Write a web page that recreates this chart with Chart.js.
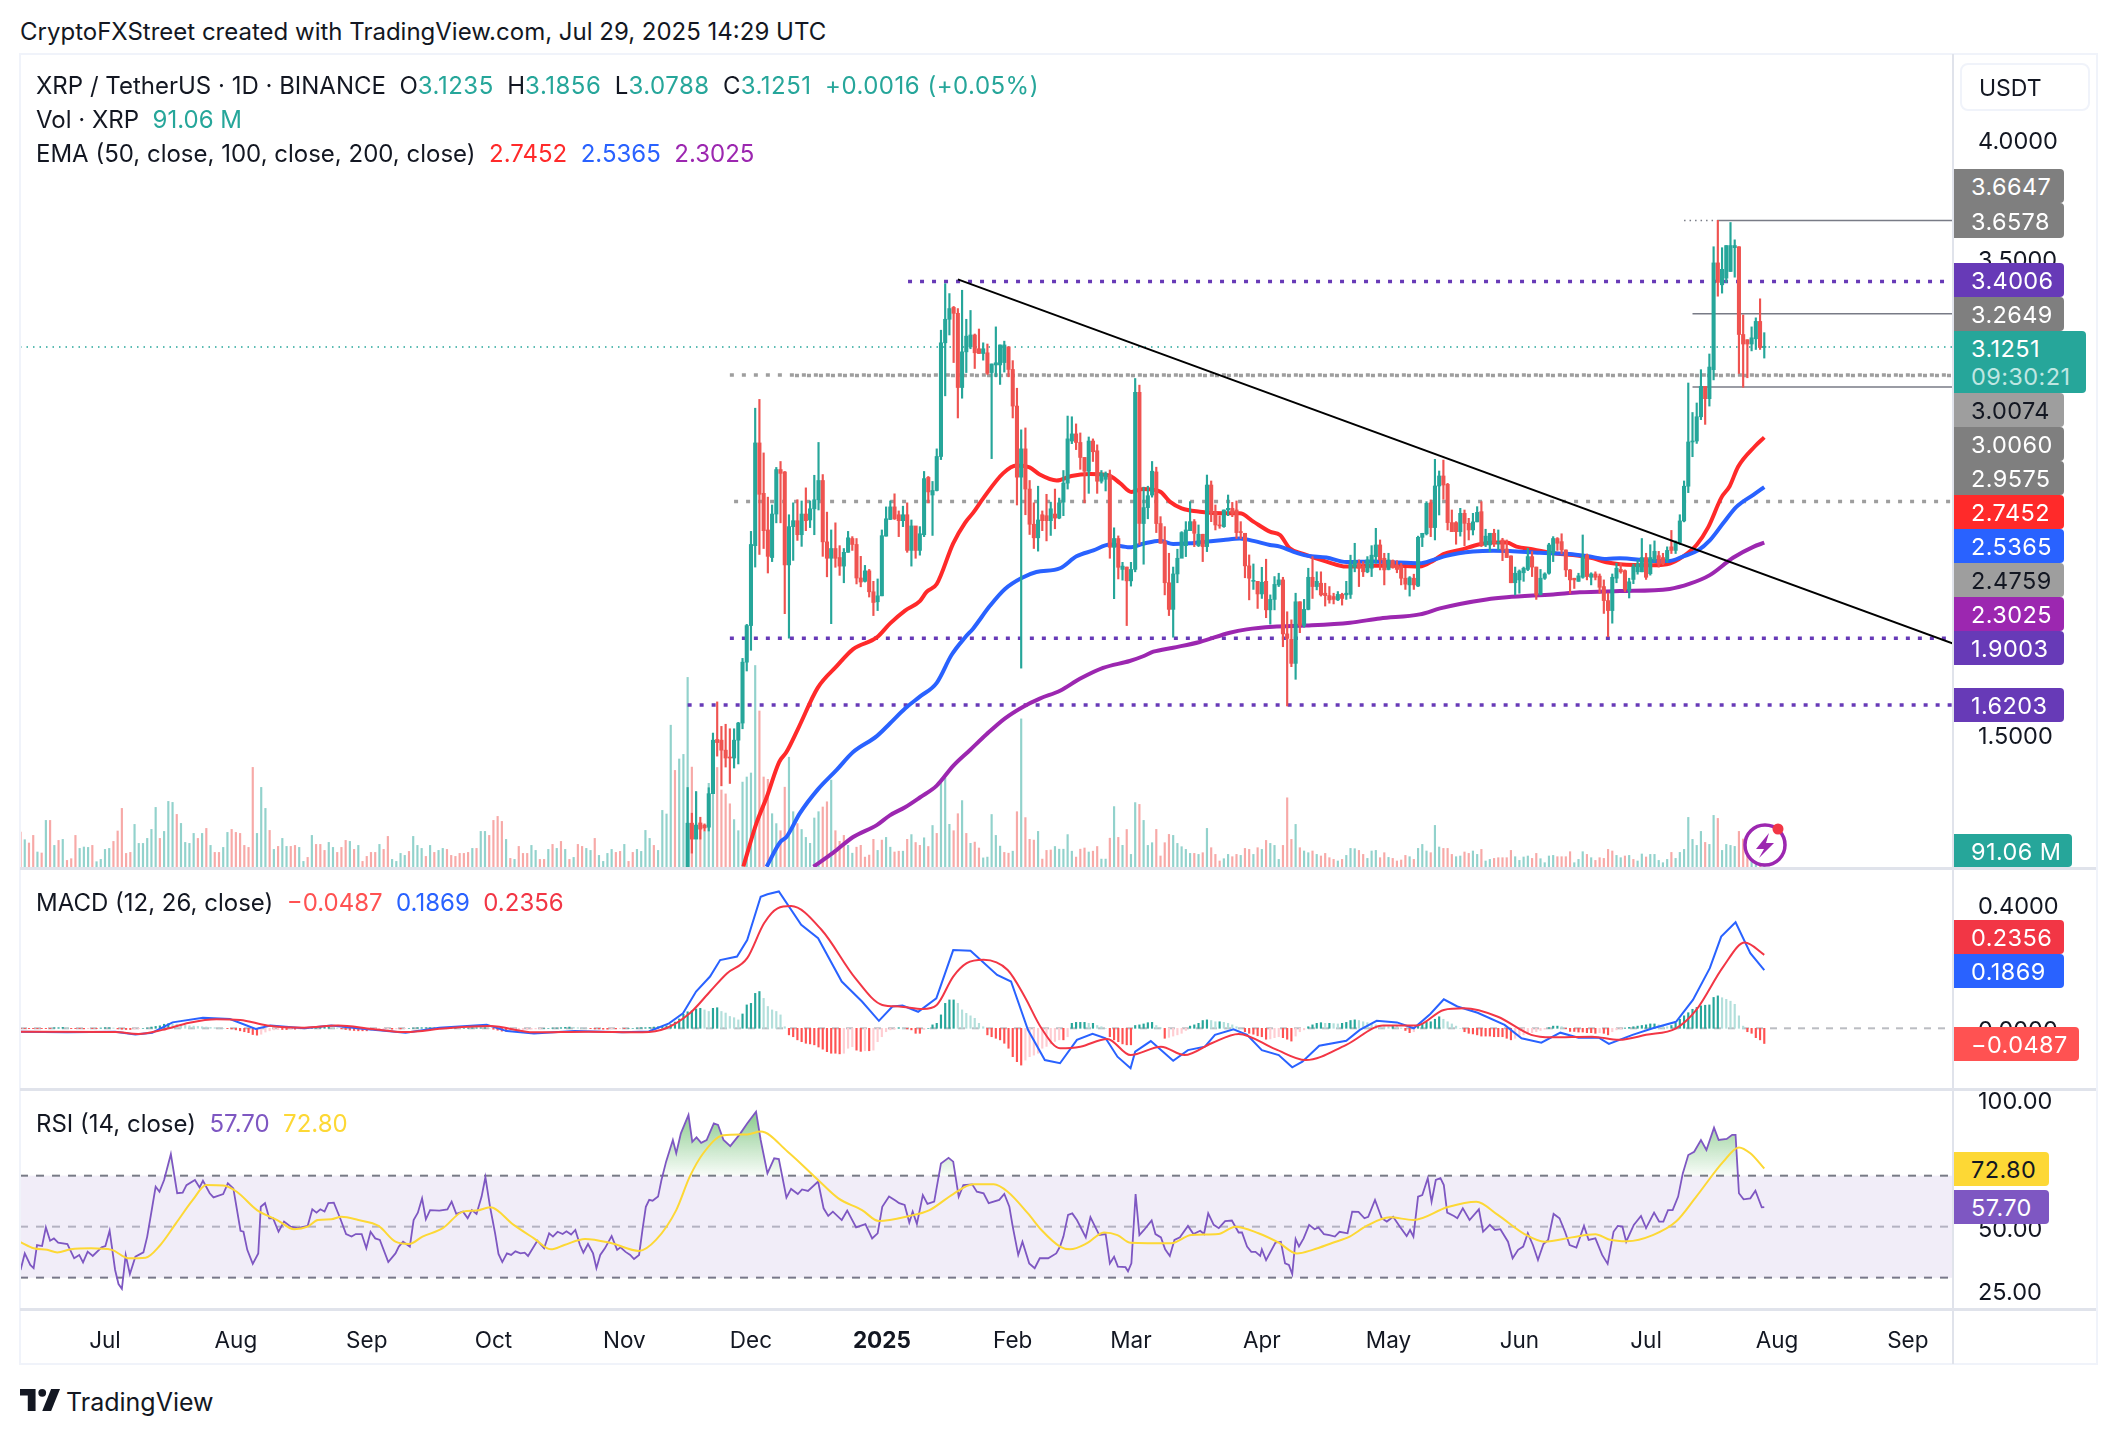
<!DOCTYPE html>
<html>
<head>
<meta charset="utf-8">
<title>XRP / TetherUS</title>
<script src="https://cdn.jsdelivr.net/npm/chart.js@4"></script>
<style>
  body { margin: 0; background: #fff; font-family: Inter, "Noto Sans", sans-serif; color: #131722; }
  #page { position: relative; width: 2116px; height: 1434px; overflow: hidden; }
  canvas { position: absolute; left: 20px; }
  .rule { position: absolute; background: #e0e3eb; }
  .frame { background: #f0f3fa; }
  .txt { position: absolute; font-size: 24px; line-height: 30px; white-space: pre; }
  .num { color: #26a69a; letter-spacing: 0.5px; }
  .tag { position: absolute; left: 1954px; font-size: 23.5px; letter-spacing: 0.4px; color: #fff; border-radius: 0 4px 4px 0;
         box-sizing: border-box; padding-left: 17px; white-space: pre; }
</style>
</head>
<body>
<div id="page">
  <canvas id="priceChart" width="2077" height="814" style="top:54px;width:2077px;height:814px"></canvas>
  <canvas id="macdChart" width="2077" height="221" style="top:868px;width:2077px;height:221px"></canvas>
  <canvas id="rsiChart" width="2077" height="275" style="top:1089px;width:2077px;height:275px"></canvas>

  <div class="rule frame" style="left:20px;top:53px;width:2078px;height:2px"></div>
  <div class="rule frame" style="left:20px;top:1363px;width:2078px;height:2px"></div>
  <div class="rule frame" style="left:19px;top:53px;width:2px;height:1312px"></div>
  <div class="rule frame" style="left:2096px;top:53px;width:2px;height:1312px"></div>
  <div class="rule" style="left:20px;top:867px;width:2076px;height:3px"></div>
  <div class="rule" style="left:20px;top:1088px;width:2076px;height:3px"></div>
  <div class="rule" style="left:20px;top:1308px;width:2076px;height:3px"></div>
  <div class="rule" style="left:1952px;top:54px;width:2px;height:1310px"></div>

  <div class="txt" style="left:20px;top:17px">CryptoFXStreet created with TradingView.com, Jul 29, 2025 14:29 UTC</div>
  <div class="txt" style="left:36px;top:71px">XRP / TetherUS · 1D · BINANCE  O<span class="num">3.1235</span>  H<span class="num">3.1856</span>  L<span class="num">3.0788</span>  C<span class="num">3.1251</span>  <span class="num">+0.0016 (+0.05%)</span></div>
  <div class="txt" style="left:36px;top:105px">Vol · XRP  <span style="color:#26a69a">91.06 M</span></div>
  <div class="txt" style="left:36px;top:139px">EMA (50, close, 100, close, 200, close)  <span style="color:#ff2a2a">2.7452</span>  <span style="color:#2962ff">2.5365</span>  <span style="color:#9c27b0">2.3025</span></div>
  <div class="txt" style="left:36px;top:888px">MACD (12, 26, close)  <span style="color:#ff5252">−0.0487</span>  <span style="color:#2962ff">0.1869</span>  <span style="color:#f23645">0.2356</span></div>
  <div class="txt" style="left:36px;top:1109px">RSI (14, close)  <span style="color:#7e57c2">57.70</span>  <span style="color:#fdd835">72.80</span></div>

  <div class="txt" style="left:1979px;top:73px;font-size:23px">USDT</div>
  <div style="position:absolute;left:1960px;top:63px;width:130px;height:48px;border:2px solid #f0f3fa;border-radius:8px;box-sizing:border-box"></div>

  <svg style="position:absolute;left:20px;top:1388px" width="40" height="24" viewBox="0 0 36 20">
    <path d="M14 0H0v6h7v14h7V0Z" fill="#131722"/><circle cx="20" cy="3.5" r="3.5" fill="#131722"/>
    <path d="M28 0h8l-8 20h-8l8-20Z" fill="#131722"/>
  </svg>
  <div class="txt" style="left:66px;top:1387px;font-size:25px">TradingView</div>

  <svg style="position:absolute;left:1740px;top:820px" width="50" height="50" viewBox="0 0 50 50">
    <circle cx="25" cy="25" r="20" fill="#fff" stroke="#9c27b0" stroke-width="3.5"/>
    <path d="M29 13 L16 29 H24 L19 38 L34 23 H26 Z" fill="#9c27b0"/>
    <circle cx="38" cy="9" r="5.5" fill="#f23645"/>
  </svg>

  <div id="tags"></div>
</div>

<script>
// x position of everything is a day count from 1 Jul 2024
const monthNames = ['Jul', 'Aug', 'Sep', 'Oct', 'Nov', 'Dec', '2025', 'Feb', 'Mar', 'Apr', 'May', 'Jun', 'Jul', 'Aug', 'Sep'];
const monthDays = [0, 31, 62, 92, 123, 153, 184, 215, 243, 274, 304, 335, 365, 396, 427];
const firstVisibleDay = -20.13;
const lastVisibleDay = 437.7;

const firstVolumeDay = -20;
// millions of XRP, negative = down day
const volumes = [
  -350,273,-240,-316,150,-140,466,-466,216,-266,
  276,-66,-83,-316,186,200,196,-216,53,76,
  176,186,-256,-360,-586,-136,-146,426,236,236,
  286,376,596,-286,356,656,646,-526,436,246,
  236,336,-286,336,-386,216,-146,-146,196,346,
  -376,-346,-336,-216,-196,-996,336,796,586,-366,
  176,-206,286,206,-206,-216,196,56,-96,316,
  -226,-226,-166,246,196,-146,-196,-266,256,-176,
  216,-56,-106,-146,-146,226,-176,-306,76,56,
  136,116,-156,306,216,186,-106,216,-146,166,
  186,-176,-116,-106,-136,-136,-146,186,-186,356,
  356,-316,-466,-506,-456,276,-86,76,-206,-136,
  -136,216,166,-76,-76,176,-226,186,-256,176,
  -76,96,-226,-206,186,166,-286,116,56,136,
  176,-146,-156,226,-56,-146,176,156,366,286,
  -216,166,566,530,1418,-966,1080,1126,1896,-999,
  750,-395,355,837,869,-995,-770,-731,-632,474,
  363,849,900,940,2015,-1560,-900,-877,533,434,
  -363,-798,1098,553,-434,375,296,237,490,553,
  -600,-652,869,-363,-257,-316,217,138,-198,-217,
  -99,-119,-277,166,-269,296,198,-150,-158,158,
  -277,324,-245,-217,292,-205,415,-336,849,889,
  427,-363,-533,664,-336,237,-249,-190,91,99,
  525,316,209,-146,-138,158,-553,1481,-494,-277,
  -269,356,-79,-166,-170,205,178,178,324,158,
  -99,-178,-190,150,-158,-205,79,79,-288,604,
  -296,217,-375,126,644,-626,466,216,243,-376,
  -110,-243,-326,316,236,203,176,136,-136,126,
  -143,386,-193,-126,-60,83,126,-103,-126,116,
  -186,-176,126,-193,176,-266,236,216,76,-216,
  -692,-276,426,-193,160,143,-160,126,-110,-136,
  -93,-76,60,-76,116,186,183,-166,-126,86,
  160,166,-93,-143,96,-86,-60,-70,-116,103,
  -76,186,226,160,-143,416,200,-186,-186,-126,
  103,110,-150,-136,160,126,-176,60,76,-86,
  -93,-93,-93,-166,103,66,100,110,-86,-136,
  83,43,110,116,-103,-103,-103,-153,43,76,
  153,-126,93,-66,-93,-86,-176,-160,116,93,
  -110,116,-76,60,130,-100,126,126,66,43,
  76,-146,86,146,176,496,276,216,356,-246,
  226,516,-486,166,226,216,206,-356,-280,-200,
  170,140,-110,91.06
];

const firstCandleDay = 138;
const candleOpen = [
  0.92,1.123,1.056,1.124,1.115,1.106,1.247,1.475,1.472,1.43,
  1.4,1.397,1.472,1.544,1.8,1.954,2.29,2.722,2.51,2.356,
  2.24,2.423,2.61,2.6,2.209,2.37,2.395,2.336,2.423,2.398,
  2.445,2.483,2.564,2.306,2.237,2.278,2.24,2.204,2.262,2.32,
  2.295,2.154,2.14,2.184,2.096,2.054,2.079,2.33,2.4,2.453,
  2.42,2.395,2.42,2.27,2.373,2.27,2.336,2.577,2.503,2.522,
  2.665,3.143,3.242,3.292,3.267,2.955,3.105,3.126,3.176,3.118,
  3.098,3.101,3.018,3.05,3.05,3.06,3.126,3.031,2.877,2.578,
  2.697,2.528,2.38,2.323,2.42,2.416,2.395,2.423,2.406,2.473,
  2.553,2.73,2.76,2.724,2.661,2.603,2.73,2.689,2.561,2.569,
  2.586,2.283,2.32,2.19,2.2,2.142,2.19,2.935,2.383,2.45,
  2.503,2.6,2.383,2.307,2.134,2.022,2.171,2.237,2.29,2.353,
  2.391,2.29,2.338,2.286,2.545,2.433,2.377,2.37,2.44,2.447,
  2.44,2.349,2.342,2.205,2.14,2.14,2.087,2.14,2.02,2.064,
  2.125,2.146,1.919,1.896,1.795,2.054,1.955,2.022,2.157,2.118,
  2.132,2.09,2.08,2.076,2.062,2.085,2.083,2.085,2.2,2.216,
  2.204,2.18,2.195,2.244,2.293,2.237,2.19,2.227,2.208,2.204,
  2.153,2.125,2.153,2.12,2.325,2.34,2.47,2.366,2.541,2.583,
  2.548,2.387,2.387,2.349,2.426,2.384,2.356,2.39,2.433,2.293,
  2.293,2.342,2.3,2.314,2.276,2.247,2.134,2.146,2.176,2.19,
  2.244,2.2,2.085,2.153,2.174,2.26,2.32,2.307,2.272,2.188,
  2.153,2.14,2.157,2.25,2.157,2.171,2.162,2.118,2.059,2.017,
  2.153,2.19,2.185,2.1,2.148,2.18,2.18,2.24,2.172,2.23,
  2.248,2.24,2.23,2.285,2.27,2.303,2.394,2.54,2.726,2.73,
  2.832,2.96,2.908,3.03,3.479,3.387,3.415,3.443,3.543,3.547,
  3.178,3.156,3.138,3.16,3.233,3.1235
];
const candleHigh = [
  1.273,1.165,1.256,1.148,1.12,1.272,1.502,1.633,1.53,1.539,
  1.52,1.52,1.547,1.816,1.959,2.35,2.868,2.905,2.68,2.494,
  2.461,2.619,2.644,2.602,2.42,2.47,2.483,2.478,2.533,2.478,
  2.586,2.724,2.589,2.431,2.356,2.386,2.29,2.278,2.35,2.328,
  2.32,2.245,2.207,2.19,2.14,2.15,2.356,2.453,2.478,2.508,
  2.436,2.456,2.47,2.398,2.37,2.37,2.602,2.581,2.56,2.697,
  3.196,3.392,3.35,3.296,3.287,3.364,3.242,3.279,3.18,3.201,
  3.143,3.138,3.054,3.21,3.134,3.15,3.126,3.068,2.952,2.777,
  2.785,2.564,2.47,2.54,2.436,2.506,2.473,2.528,2.49,2.606,
  2.835,2.832,2.802,2.764,2.661,2.747,2.739,2.714,2.606,2.6,
  2.608,2.365,2.331,2.22,2.2,2.22,2.993,2.965,2.536,2.54,
  2.644,2.62,2.412,2.37,2.258,2.2,2.275,2.349,2.391,2.475,
  2.4,2.377,2.338,2.587,2.562,2.461,2.416,2.44,2.503,2.472,
  2.478,2.391,2.342,2.251,2.213,2.14,2.199,2.233,2.083,2.16,
  2.174,2.157,2.012,1.978,2.09,2.054,2.064,2.195,2.244,2.18,
  2.18,2.132,2.118,2.09,2.097,2.09,2.14,2.25,2.3,2.23,
  2.223,2.244,2.29,2.363,2.314,2.258,2.258,2.23,2.227,2.216,
  2.195,2.16,2.17,2.33,2.342,2.475,2.482,2.653,2.604,2.65,
  2.552,2.44,2.391,2.447,2.44,2.405,2.426,2.454,2.475,2.359,
  2.342,2.359,2.356,2.321,2.314,2.247,2.2,2.188,2.2,2.279,
  2.265,2.2,2.19,2.176,2.3,2.328,2.324,2.34,2.272,2.19,
  2.153,2.174,2.335,2.255,2.176,2.18,2.171,2.146,2.09,2.171,
  2.216,2.216,2.188,2.153,2.212,2.23,2.32,2.258,2.294,2.31,
  2.266,2.258,2.285,2.354,2.31,2.42,2.562,2.974,2.85,2.89,
  3.03,2.96,3.096,3.547,3.658,3.543,3.552,3.649,3.576,3.547,
  3.26,3.156,3.21,3.248,3.328,3.1856
];
const candleLow = [
  0.9,0.997,1.06,1.056,1.09,1.09,1.247,1.405,1.28,1.359,
  1.29,1.355,1.372,1.52,1.763,1.85,2.2,2.253,2.278,2.175,
  2.223,2.386,2.386,2.004,1.901,2.228,2.312,2.287,2.353,2.366,
  2.336,2.44,2.245,2.159,1.962,2.199,2.165,2.134,2.262,2.27,
  2.129,2.117,2.137,2.074,1.996,2.017,2.079,2.33,2.4,2.4,
  2.328,2.37,2.262,2.204,2.237,2.25,2.328,2.47,2.333,2.52,
  2.652,2.92,3.176,3.06,2.827,2.91,3.018,3.118,3.035,3.098,
  3.07,3.01,2.656,3.0,2.968,3.02,3.0,2.827,2.461,1.775,
  2.42,2.337,2.278,2.267,2.353,2.31,2.333,2.361,2.403,2.416,
  2.528,2.719,2.694,2.611,2.47,2.51,2.644,2.51,2.553,2.52,
  2.237,2.067,2.15,2.145,1.954,2.12,2.18,2.295,2.212,2.403,
  2.494,2.345,2.3,2.083,1.996,1.905,2.134,2.241,2.244,2.353,
  2.286,2.286,2.223,2.265,2.391,2.356,2.363,2.367,2.416,2.412,
  2.32,2.32,2.155,2.062,2.106,2.026,2.068,1.987,1.96,2.02,
  2.118,1.865,1.616,1.781,1.728,1.924,1.947,2.02,2.068,2.104,
  2.078,2.036,2.048,2.045,2.059,2.04,2.064,2.068,2.18,2.118,
  2.16,2.176,2.16,2.216,2.188,2.125,2.188,2.195,2.176,2.125,
  2.106,2.078,2.106,2.118,2.286,2.335,2.328,2.314,2.419,2.485,
  2.356,2.349,2.296,2.33,2.29,2.314,2.335,2.39,2.286,2.286,
  2.265,2.286,2.272,2.227,2.24,2.134,2.083,2.09,2.14,2.185,
  2.16,2.064,2.083,2.148,2.17,2.223,2.27,2.255,2.16,2.09,
  2.11,2.14,2.153,2.146,2.125,2.146,2.09,2.005,1.907,1.964,
  2.134,2.174,2.097,2.07,2.13,2.17,2.18,2.148,2.166,2.22,
  2.2,2.21,2.22,2.257,2.257,2.294,2.39,2.513,2.664,2.72,
  2.82,2.8,2.877,2.987,3.339,3.352,3.397,3.443,3.419,3.014,
  2.956,2.996,3.109,3.115,3.115,3.0788
];
const candleClose = [
  1.123,1.056,1.115,1.098,1.103,1.247,1.472,1.462,1.43,1.397,
  1.397,1.472,1.544,1.8,1.954,2.295,2.722,2.506,2.353,2.245,
  2.423,2.61,2.594,2.209,2.37,2.395,2.336,2.423,2.395,2.445,
  2.483,2.564,2.306,2.237,2.278,2.237,2.204,2.262,2.323,2.295,
  2.154,2.137,2.184,2.096,2.051,2.079,2.332,2.403,2.453,2.403,
  2.395,2.42,2.27,2.373,2.27,2.34,2.572,2.516,2.522,2.665,
  3.143,3.242,3.287,3.267,2.955,3.105,3.171,3.176,3.101,3.098,
  3.118,3.015,3.054,3.059,3.134,3.134,3.031,2.877,2.578,2.697,
  2.528,2.38,2.323,2.398,2.395,2.395,2.445,2.406,2.47,2.553,
  2.739,2.76,2.724,2.661,2.603,2.73,2.685,2.561,2.594,2.594,
  2.283,2.32,2.199,2.204,2.142,2.19,2.935,2.383,2.45,2.5,
  2.603,2.383,2.3,2.134,2.022,2.171,2.237,2.345,2.356,2.391,
  2.342,2.338,2.286,2.545,2.429,2.377,2.373,2.44,2.447,2.426,
  2.345,2.345,2.205,2.153,2.142,2.087,2.136,2.02,2.064,2.127,
  2.146,1.919,1.9,1.795,2.054,1.955,2.022,2.157,2.118,2.14,
  2.083,2.08,2.062,2.064,2.085,2.068,2.09,2.212,2.226,2.195,
  2.18,2.23,2.25,2.293,2.23,2.188,2.23,2.2,2.19,2.153,
  2.128,2.155,2.125,2.325,2.342,2.468,2.366,2.541,2.583,2.545,
  2.387,2.349,2.349,2.426,2.384,2.356,2.39,2.43,2.293,2.33,
  2.342,2.3,2.302,2.272,2.24,2.134,2.174,2.183,2.195,2.244,
  2.2,2.083,2.153,2.171,2.293,2.32,2.3,2.272,2.188,2.146,
  2.146,2.163,2.241,2.16,2.171,2.157,2.115,2.059,2.017,2.157,
  2.195,2.18,2.106,2.138,2.202,2.212,2.24,2.157,2.24,2.266,
  2.212,2.215,2.27,2.27,2.303,2.394,2.54,2.726,2.73,2.832,
  2.96,2.908,3.041,3.479,3.397,3.452,3.552,3.552,3.552,3.178,
  3.138,3.138,3.164,3.233,3.123,3.1251
];

const ema50Days = [151.2,154.3,156.7,159.7,161.4,164.2,168.8,173.3,177.2,182.8,185.9,189.5,193,194.6,197,200.9,203.7,205.6,208,212.7,215.9,219,221.4,225.4,228.9,233.3,237.6,240.4,243.1,245.9,249.9,252.2,255,259.3,264.9,268.8,272,275.9,278.3,280.6,283.8,289.3,294,300.4,306.7,311.4,314.6,317,320.9,325.6,328.8,332,334.3,338.3,343,347.7,352.5,355.6,358.8,366.7,370.6,373.8,377,379.7,382.9,384.8,386.8,390.8,393];
const ema50Values = [0.941,1.123,1.231,1.381,1.422,1.522,1.692,1.783,1.855,1.904,1.962,2.017,2.057,2.096,2.129,2.3,2.386,2.428,2.489,2.594,2.627,2.619,2.589,2.564,2.583,2.591,2.586,2.553,2.516,2.528,2.517,2.475,2.447,2.433,2.426,2.426,2.391,2.349,2.335,2.279,2.255,2.223,2.202,2.205,2.205,2.202,2.227,2.255,2.272,2.296,2.303,2.303,2.286,2.274,2.258,2.251,2.237,2.22,2.212,2.208,2.215,2.245,2.294,2.367,2.494,2.54,2.622,2.708,2.7452];
const ema100Days = [156.7,159.9,161.4,164.6,168.8,173.3,177.2,182.8,185.9,189.5,193,197,200.5,203.7,205.6,209.6,213.1,217.1,220.6,226.2,230.1,234.1,238,242.7,245.9,249.9,253,257,260.9,264.9,268.8,272,275.9,278.3,281.4,284.6,289.3,294,300.4,306.7,311.4,314.6,317.7,324,328.8,332.7,339.8,346.9,351.7,355.6,358.8,366.7,370.6,373.8,377.3,380.1,383.3,386.4,390.4,393];
const ema100Values = [0.94,1.043,1.065,1.165,1.264,1.347,1.422,1.489,1.542,1.605,1.655,1.713,1.83,1.904,1.941,2.037,2.107,2.154,2.179,2.195,2.245,2.27,2.295,2.283,2.298,2.311,2.297,2.3,2.307,2.314,2.32,2.31,2.293,2.286,2.265,2.248,2.24,2.221,2.223,2.219,2.216,2.23,2.247,2.265,2.269,2.268,2.26,2.255,2.244,2.234,2.237,2.226,2.226,2.245,2.27,2.312,2.385,2.453,2.504,2.5365];
const ema200Days = [167.8,172.5,177.2,182.8,185.9,189.5,193,197,200.9,204.9,208.8,213.1,217.5,221.4,226.2,230.9,236.4,242.7,245.9,248.3,253,259.3,266.4,270.4,276.7,284.6,294.9,302,311.4,316.2,320.9,327.2,332,343,349.3,358.8,370.6,375.4,380.1,385.6,390.4,393];
const ema200Values = [0.94,0.999,1.065,1.115,1.156,1.19,1.231,1.281,1.364,1.431,1.497,1.563,1.613,1.647,1.68,1.73,1.776,1.805,1.825,1.844,1.861,1.885,1.924,1.938,1.949,1.954,1.966,1.984,2.001,2.026,2.045,2.064,2.073,2.085,2.094,2.099,2.108,2.13,2.166,2.239,2.285,2.3025];

const priceTicks = [1, 1.5, 2, 2.5, 3, 3.5, 4];
const macdTicks = [0, 0.4];
const rsiTicks = [25, 50, 75, 100];

const macdDays = [-20.1,-9,2.4,7.2,11.2,16,23.2,29.6,35.7,39.2,47.2,53.6,61.6,71.2,79.2,90.4,95.2,101.6,111.2,122.4,128.8,133.6,136.9,140,143.3,145.7,149.7,152.1,155.3,156.9,159.6,164.9,168.9,174.5,179.3,183.3,186.5,188.9,192.6,196.9,200.9,205,211.3,214.6,218.6,222.6,226.2,230.2,233.9,237,239.8,242.9,244,247.7,253,256.5,260.5,262.9,267.3,270.5,274,278,281.2,283.6,287.6,294,297.2,301.2,306,310,313.9,317.1,320.3,325.1,331.5,335.5,340.2,344.7,349,353.8,356.2,361.8,366.6,372.1,376.1,380.1,382.8,386.2,389.7,393];
const macdValues = [-0.011,-0.013,-0.011,-0.02,-0.014,0.019,0.034,0.03,-0.002,0.009,0,0.009,-0.002,-0.014,0.002,0.011,-0.009,-0.017,-0.009,-0.013,-0.01,0.016,0.048,0.118,0.166,0.219,0.23,0.283,0.422,0.43,0.439,0.332,0.289,0.15,0.086,0.024,0.07,0.073,0.053,0.096,0.251,0.249,0.171,0.15,-0.005,-0.102,-0.112,-0.037,-0.018,-0.032,-0.091,-0.128,-0.075,-0.041,-0.104,-0.07,-0.059,-0.021,-0.003,-0.021,-0.07,-0.086,-0.125,-0.107,-0.056,-0.04,-0.005,0.024,0.019,0,0.046,0.093,0.07,0.05,0.011,-0.032,-0.046,-0.014,-0.03,-0.03,-0.05,-0.021,0,0.021,0.091,0.193,0.294,0.34,0.241,0.1869];
const signalDays = [-20.1,2.4,7.9,13.6,20,26.4,32,38.4,47.2,55.2,63.2,71.2,80.8,91.2,101.6,114.5,127.3,132.9,138.5,143.3,147.3,152.1,156.1,159.3,162.5,169.7,177.7,184.1,188.1,193.7,197,200.9,204.1,208.1,213.8,217.8,221.8,226.2,231,237.4,242.9,250.1,255.7,262.1,268.5,277.2,284.4,294,302.8,310.7,317.1,321.9,329.9,337.8,342.6,352.2,358.6,365,372.1,376.9,383.3,388.4,393];
const signalValues = [-0.011,-0.012,-0.018,-0.005,0.018,0.029,0.027,0.009,0.002,0.009,-0.002,-0.012,0,0.007,-0.013,-0.011,-0.013,0,0.048,0.118,0.176,0.225,0.337,0.385,0.392,0.316,0.161,0.075,0.07,0.062,0.075,0.166,0.209,0.22,0.187,0.102,0,-0.064,-0.059,-0.034,-0.086,-0.059,-0.086,-0.048,-0.018,-0.067,-0.102,-0.053,0.009,0.009,0.059,0.064,0.037,-0.021,-0.029,-0.027,-0.037,-0.021,0,0.059,0.198,0.275,0.2356];

const firstHistogramDay = -20;
const histogram = [
  -0.001,-0.001,-0.001,-0.001,-0.001,-0.001,-0.001,-0.001,0.002,0.002,
  0.003,0.002,-0.001,-0.001,-0.001,-0.002,-0.001,-0.001,-0.001,0.001,
  0.002,0.002,0.001,-0.002,-0.003,-0.004,-0.004,-0.002,-0.001,0,
  0.001,0.004,0.006,0.008,0.013,0.015,0.014,0.013,0.012,0.01,
  0.008,0.007,0.006,0.005,0.004,0.003,0.002,0.001,0,-0.001,
  -0.002,-0.005,-0.008,-0.011,-0.014,-0.02,-0.022,-0.019,-0.012,-0.008,
  -0.005,-0.004,-0.004,-0.004,-0.003,-0.003,-0.002,-0.001,0,0.001,
  0.002,0.003,0.004,0.004,0.002,0.001,-0.002,-0.004,-0.006,-0.007,
  -0.008,-0.008,-0.008,-0.007,-0.006,-0.005,-0.004,-0.003,-0.003,-0.002,
  -0.002,-0.001,0,0.001,0.002,0.002,0.002,0.002,0.002,0.001,
  0.001,0.001,0.001,0.001,0,0,0.001,0.002,0.002,0.002,
  0.002,0.001,-0.003,-0.006,-0.009,-0.01,-0.009,-0.007,-0.006,-0.005,
  -0.004,-0.003,-0.002,-0.001,0,0,0.001,0.001,0.002,0.003,
  0.004,0.003,0.002,0.001,0,-0.001,-0.002,-0.002,-0.003,-0.003,
  -0.002,-0.002,-0.001,-0.001,0,0,0.001,0.002,0.002,0.003,
  0.004,0.005,0.006,0.008,0.012,0.02,0.03,0.045,0.053,0.056,
  0.062,0.064,0.059,0.054,0.064,0.066,0.054,0.049,0.038,0.034,
  0.027,0.046,0.075,0.08,0.112,0.118,0.096,0.07,0.059,0.054,
  0.043,0.005,-0.021,-0.027,-0.037,-0.043,-0.048,-0.05,-0.053,-0.06,
  -0.067,-0.075,-0.08,-0.08,-0.082,-0.08,-0.064,-0.059,-0.07,-0.074,
  -0.072,-0.072,-0.07,-0.043,-0.027,-0.011,-0.005,-0.003,0.002,0.001,
  -0.002,-0.005,-0.016,-0.016,-0.004,0,0.011,0.016,0.043,0.08,
  0.091,0.091,0.08,0.059,0.048,0.04,0.032,0.016,0.005,-0.021,
  -0.027,-0.032,-0.037,-0.048,-0.064,-0.091,-0.107,-0.118,-0.102,-0.091,
  -0.086,-0.08,-0.064,-0.058,-0.05,-0.042,-0.037,-0.037,-0.027,0.016,
  0.019,0.019,0.019,0.016,0.016,0.009,0.005,0,-0.027,-0.037,
  -0.043,-0.05,-0.053,-0.053,0.009,0.011,0.014,0.018,0.019,0.009,
  0.002,-0.032,-0.029,-0.025,-0.021,-0.016,-0.007,0.007,0.011,0.016,
  0.025,0.027,0.025,0.021,0.021,0.019,0.016,0.011,0.005,0,
  -0.011,-0.016,-0.019,-0.024,-0.027,-0.035,-0.034,-0.03,-0.027,-0.03,
  -0.035,-0.041,-0.025,-0.011,-0.005,0.005,0.011,0.016,0.018,0.016,
  0.016,0.015,0.014,0.016,0.019,0.025,0.027,0.025,0.021,0.018,
  0.016,0.011,0.009,0.006,0.005,0.009,0.007,0.001,-0.007,-0.014,
  -0.011,0.011,0.016,0.019,0.021,0.029,0.037,0.029,0.021,0.014,
  0.007,0,-0.011,-0.016,-0.018,-0.021,-0.025,-0.025,-0.025,-0.027,
  -0.027,-0.027,-0.032,-0.037,-0.032,-0.027,-0.021,-0.018,-0.014,-0.011,
  -0.007,-0.003,0.002,0.007,0.007,0.005,-0.001,-0.01,-0.01,-0.012,
  -0.012,-0.014,-0.014,-0.016,-0.014,-0.016,-0.021,-0.011,-0.005,-0.002,
  0.001,0.003,0.005,0.007,0.009,0.011,0.014,0.014,0.011,0.007,
  0.005,0.009,0.016,0.029,0.04,0.05,0.061,0.067,0.072,0.074,
  0.075,0.099,0.104,0.098,0.093,0.087,0.077,0.04,0.007,-0.011,
  -0.016,-0.03,-0.037,-0.0487
];

const rsiDays = [-20,-19,-17.7,-16.9,-16.1,-14.9,-14,-13,-12.1,-11.1,-8.9,-7.3,-6.1,-5.2,-4.1,-2.9,-0.8,0.1,1.1,2.4,3.2,4,4.9,5.9,7.2,9.1,10,11.2,12,12.9,14,15.6,17.1,18.4,19.3,21.3,22.4,23.2,24.8,25.7,28,29.1,30.4,32.1,32.8,33.7,35,36.3,36.9,37.9,38.9,39.8,41.1,42.4,44,45.6,48,49.1,50.1,51,52,52.9,54.2,55.7,57.1,58.4,59.4,60.8,61.9,62.9,64,65.1,67.1,68.8,69.6,70.6,72.2,73.1,74.1,75.1,76,77,79.2,81.1,82.1,83.2,84.8,85.9,86.9,88,89.2,90.1,91.2,92.4,93.2,94.1,95.2,96.2,97.2,98.4,99.4,100.2,102.4,104,105.2,106.1,107.2,108.4,109.3,110.4,111.4,112.5,113.3,114.4,115.6,116.4,117.3,118.4,120,121.3,122.1,123.3,124.4,125.3,126.5,127.3,128.1,128.9,129.7,131,131.8,132.9,134.5,135.3,136.4,138.2,139.1,140.1,141.2,142.5,144.2,145.2,146.5,148.1,150.5,152.1,154.2,155.3,156.9,158.5,159.6,161.4,162.5,164.1,165.1,166.5,168.9,170.2,171.3,172.4,174.5,175.8,177.9,180.1,181.7,183,184.1,185.7,187.3,188.1,189.4,190.5,191.3,192.3,193.7,194.8,196.4,198,199.8,200.9,202.2,203.3,205.4,206.5,208.1,209.3,211.8,213,214.2,215,216.3,217.3,218.9,220.2,221.4,223.4,225.3,226.2,227,228.1,229.1,230.2,232.3,233.4,234.5,235.5,237,238,239,239.9,241.7,242.3,243.1,244.1,245,246.1,247.9,248.8,250.1,251.1,252.2,253.3,254.6,256.5,257.8,259.4,260.3,261.3,262.6,263.8,265.3,266.9,268.5,269.3,270.5,271.5,272.5,273.6,274,275,277.2,278.5,279.5,280.4,281.2,282,282.8,283.9,285.2,286.5,287.4,288.7,290,291.3,292.4,294.3,295.4,296.9,298.3,299.2,300.8,302.4,303.6,305.1,306.7,308.3,309.1,309.9,311,312,313.3,314.2,315.2,316.3,317.1,317.9,319.5,320.3,321.6,323.2,325.4,326.4,328,329.2,330.5,332.3,333.4,334.7,335.9,337,338.2,339.4,340.7,341.8,343.1,344.5,345.8,346.9,348.5,350.3,351.4,353,354.6,355.9,357.3,358.3,359.4,360.3,362.1,363.8,365,366.9,368.1,369.1,370.2,371.3,372.6,373.7,375,376.4,378,379.3,381.1,382.2,384.1,385.4,386.2,387,388.1,389.7,390.9,392.4,393];
const rsiValues = [33,39.5,35,33.7,42.8,42.4,49.7,44.5,45.4,43.7,43.2,37.6,38.9,36,40.2,38.5,41.9,42.4,48.4,33,27.5,25.6,38.9,31.4,38.2,39.9,46.1,57.8,65.7,63.7,68.3,78.5,63.1,63.3,66.3,68.3,65.4,68,63.1,61.5,62.8,67,65,48.4,48,40.9,35.4,39.5,57.8,59.2,53.3,53.3,48,52,50,49.4,50.3,56.8,55.5,56.8,55.9,59.2,59.4,53.3,47.1,46.1,47.1,47.1,41.5,48,45.4,44.8,36.1,39.5,42.2,44.1,42.2,52.6,55.5,61.1,52.9,56.5,56.3,56.8,59.8,55,55.9,53.3,56.5,55,61.8,69.4,57.8,47.4,39.3,36.1,39.5,38.9,40.3,39.5,39.8,38.5,44.5,41.5,47.4,46.1,48,47.1,48.2,46.9,48.7,42.8,39.8,43.2,39.5,33.7,38.9,41.5,46.3,40.9,41.9,40.1,38.9,37.3,38.9,48.7,57.8,60.5,60.2,61.8,68.3,75.5,84,78.8,86.6,93.8,83.3,85,82.9,84,90.5,89.9,84,81.6,86.6,90.5,95.1,84,70.9,76.8,76.5,61.4,64.8,62.8,64.6,64,67.7,57.2,54.2,55.9,52.6,56.3,49.7,51,45.4,47.4,57.8,61.8,60.2,59.2,58.5,51.6,55.9,51.1,62.4,58.9,59.8,74.8,77,75.5,61.8,66.3,66.6,63.7,63.1,59.2,60.5,62.8,57.8,50,38.9,44.1,35.6,33.7,37.6,37.6,39.5,42.2,46.1,54.6,55.2,52.6,45.8,53.7,50,46.7,47.1,35.6,38.2,34.3,34.1,32.5,35.6,62.8,46.7,48.7,52.4,47.1,45.8,41.1,38.5,44.8,45.8,50.3,47.1,48.4,47.1,55.2,50.7,49.4,52.2,52.4,47.7,47.7,42.2,40.1,40.1,38.5,41.1,36.9,43.7,44.1,35.6,35,31.4,45.2,42.2,45.4,50.7,49,49.7,47.1,46.7,46.1,48,47.4,55.9,55.8,53.3,53.9,60.5,53.3,52,53.9,50,46.3,48.7,46.1,61.8,62.4,69,59.8,68.3,69,66.3,55.5,54.2,53.3,57.2,52.6,56.8,48,50.7,48.7,49,44.1,37.6,40.9,42.2,47.4,42.8,36.9,43.2,44.8,55,53.3,48,42.8,41.8,50.3,44.8,45.4,38.9,35.4,48,50.3,50,44.1,50.7,54.2,49.4,55.5,52,52,56.5,56.5,61.8,70.9,78.1,79.4,84,80.1,88.8,84,84.4,86,86,63.1,60.7,61.1,64.1,57.6,57.7];
const rsiMaDays = [-20,-16.9,-13.7,-11.3,-8.1,-3.3,1.6,5.6,9.6,12.8,16.8,20.8,24,28,31.2,36,40.8,44.8,48,50.4,53.6,56,60,64.8,68.8,72,75.2,80,84.8,88,91.2,96.8,101.6,105.6,108.8,113.7,120,126.5,130.5,135.3,138.5,141.7,146.5,152.1,155.3,161.7,168.9,173.7,179.3,183.3,190.5,195.3,200.9,205.7,210.5,213.8,218.6,221.8,226.2,228.6,232.6,236.6,239.8,242.9,252.5,257.3,263.7,267.7,273.2,278,282.3,286,290.8,294.8,298.8,304.3,309.9,317.9,324.8,329.9,336.2,341,347.4,353,356.2,360.5,366.6,372.1,376.9,383.3,387,389.7,393];
const rsiMaValues = [43.9,41.5,40.9,39.9,41.1,41.5,40.9,37.6,37.8,42.2,51.3,60.5,66.3,66.1,63.7,56.5,52.6,49,50,52.6,52.9,53.9,52.6,50.3,44.1,43.2,46.1,49.4,55.9,56.3,57.6,50.7,45.4,41.1,42.8,45.2,43.5,40.5,44.8,56.5,69.6,78.8,85.9,86.2,87.3,79.4,68.3,61.1,56.5,52.2,54.2,56.5,62.8,66.6,66.6,63.7,55.2,48.7,42.2,41.1,43.5,47.7,46.7,43.7,43.5,46.7,47.1,50,47.4,43.7,39.5,40.9,43.7,46.1,50.3,53.7,52.6,57.6,59.8,54.6,47.1,44.1,45.8,47,45,44.3,46.7,52,61.8,75.5,81.1,78.8,72.8];

const TEAL = '#26a69a';
const RED = '#ef5350';
const FONT = 'Inter, "Noto Sans", sans-serif';

function pairs(xs, ys) {
  return xs.map((x, k) => ({ x: x, y: ys[k] }));
}

function line(data, color, width, extra) {
  return Object.assign({ type: 'line', data: data, borderColor: color, borderWidth: width,
    pointRadius: 0, tension: 0, fill: false, order: 4 }, extra);
}

function level(value, fromDay, toDay, color, width, dash, extra) {
  return line([{ x: fromDay, y: value }, { x: toDay, y: value }], color, width,
    Object.assign({ borderDash: dash, borderCapStyle: 'butt', order: 6 }, extra));
}

const SMOOTH = { cubicInterpolationMode: 'monotone' };

// right axis with fixed width and no label padding, so the plot area is exact
function rightAxis(min, max, ticks, digits) {
  return {
    position: 'right', min: min, max: max,
    grid: { display: false }, border: { display: false },
    afterBuildTicks: s => { s.ticks = ticks.map(v => ({ value: v })); },
    afterFit: s => { s.width = 144; s.paddingTop = 0; s.paddingBottom = 0; },
    ticks: { color: '#131722', padding: 17, labelOffset: 3, autoSkip: false, font: { family: FONT, size: 23.5 },
      callback: v => v.toFixed(digits) }
  };
}

function timeAxis(show) {
  return {
    type: 'linear', min: firstVisibleDay, max: lastVisibleDay, display: show, offset: false,
    grid: { display: false }, border: { display: false },
    afterBuildTicks: s => { s.ticks = monthDays.map(v => ({ value: v })); },
    afterFit: s => { s.height = show ? 55 : 0; s.paddingLeft = 0; s.paddingRight = 0; },
    ticks: {
      color: '#131722', padding: 11, autoSkip: false, maxRotation: 0,
      callback: (v, k) => monthNames[k],
      font: c => ({ family: FONT, size: 22.5, weight: monthNames[c.index] === '2025' ? 'bold' : 'normal' })
    }
  };
}

function baseOptions(scales) {
  return {
    responsive: false, animation: false, events: [],
    layout: { padding: 0 },
    plugins: { legend: { display: false }, tooltip: { enabled: false } },
    datasets: { bar: { grouped: false, borderWidth: 0, borderSkipped: false } },
    scales: scales
  };
}

// price pane
const candleDays = candleOpen.map((v, k) => firstCandleDay + k);
const candleColors = candleOpen.map((v, k) => candleClose[k] >= v ? TEAL : RED);

new Chart(document.getElementById('priceChart'), {
  type: 'bar',
  data: {
    datasets: [
      { data: volumes.map((v, k) => ({ x: firstVolumeDay + k, y: Math.abs(v) })), yAxisID: 'vol', order: 10,
        barThickness: 1.5, backgroundColor: volumes.map(v => v >= 0 ? 'rgba(38,166,154,0.5)' : 'rgba(239,83,80,0.5)') },
      { data: candleDays.map((d, k) => ({ x: d, y: [candleLow[k], candleHigh[k]] })), order: 3,
        barThickness: 1.5, backgroundColor: candleColors },
      { data: candleDays.map((d, k) => ({ x: d, y: [candleOpen[k], candleClose[k]] })), order: 2,
        barThickness: 3.4, minBarLength: 1, backgroundColor: candleColors },
      line(pairs(ema200Days, ema200Values), '#9c27b0', 4, SMOOTH),
      line(pairs(ema100Days, ema100Values), '#2962ff', 4, SMOOTH),
      line(pairs(ema50Days, ema50Values), '#ff2a2a', 4, SMOOTH),
      level(3.4006, 190.2, lastVisibleDay, '#673ab7', 3.5, [4, 8]),
      level(3.0074, 148, lastVisibleDay, '#9e9e9e', 3.5, [4, 8]),
      level(3.006, 162, lastVisibleDay, '#9e9e9e', 3.5, [4, 8], { borderDashOffset: 6 }),
      level(2.4759, 149, lastVisibleDay, '#9e9e9e', 3.5, [4, 8]),
      level(1.9003, 148, lastVisibleDay, '#673ab7', 3.5, [4, 8]),
      level(1.6203, 138, lastVisibleDay, '#673ab7', 3.5, [4, 8]),
      level(3.6578, 374, 382, '#787b86', 1.5, [1.5, 4]),
      level(3.6578, 382, lastVisibleDay, '#787b86', 1.5, []),
      level(3.2649, 376, lastVisibleDay, '#787b86', 1.5, []),
      level(2.9575, 376, lastVisibleDay, '#787b86', 1.5, []),
      level(3.1251, firstVisibleDay, lastVisibleDay, TEAL, 1.5, [1.5, 5], { order: 7 }),
      line([{ x: 202, y: 3.41 }, { x: lastVisibleDay, y: 1.878 }], '#000', 2, { order: 1 })
    ]
  },
  options: baseOptions({
    x: timeAxis(false),
    y: rightAxis(0.9345, 4.3575, priceTicks, 4),
    vol: { display: false, min: -10, max: 8130 }
  })
});

// MACD pane, histogram shade follows growing or falling bars
const histColors = histogram.map((v, k) => {
  const prev = k ? histogram[k - 1] : v;
  if (v >= 0) return v >= prev ? TEAL : '#b2dfdb';
  return v <= prev ? '#ff5252' : '#ffcdd2';
});

new Chart(document.getElementById('macdChart'), {
  type: 'bar',
  data: {
    datasets: [
      { data: histogram.map((v, k) => ({ x: firstHistogramDay + k, y: v })), order: 5,
        barThickness: 1.5, backgroundColor: histColors },
      level(0, firstVisibleDay, lastVisibleDay, 'rgba(120,123,134,0.5)', 2, [7, 7], { order: 6 }),
      line(pairs(signalDays, signalValues), '#f23645', 2, Object.assign({ order: 1 }, SMOOTH)),
      line(pairs(macdDays, macdValues), '#2962ff', 2, { order: 2 })
    ]
  },
  options: baseOptions({
    x: timeAxis(false),
    y: rightAxis(-0.1947, 0.5142, macdTicks, 4)
  })
});

// RSI pane
const rsiCanvas = document.getElementById('rsiChart');
const overbought = rsiCanvas.getContext('2d').createLinearGradient(0, 14, 0, 87);
overbought.addColorStop(0, 'rgba(76,175,80,0.75)');
overbought.addColorStop(1, 'rgba(76,175,80,0.03)');

new Chart(rsiCanvas, {
  type: 'line',
  data: {
    datasets: [
      level(70, firstVisibleDay, lastVisibleDay, '#787b86', 2, [8, 8],
        { fill: { target: { value: 30 }, above: 'rgba(126,87,194,0.11)', below: 'rgba(126,87,194,0.11)' } }),
      level(50, firstVisibleDay, lastVisibleDay, 'rgba(120,123,134,0.5)', 2, [8, 8]),
      level(30, firstVisibleDay, lastVisibleDay, '#787b86', 2, [8, 8]),
      line(pairs(rsiMaDays, rsiMaValues), '#fdd835', 2, Object.assign({ order: 1 }, SMOOTH)),
      line(pairs(rsiDays, rsiValues), '#7e57c2', 1.8, { order: 2,
        fill: { target: { value: 70 }, above: overbought, below: 'rgba(0,0,0,0)' } })
    ]
  },
  options: baseOptions({
    x: timeAxis(true),
    y: rightAxis(17.7, 104, rsiTicks, 2)
  })
});

// value tags over the right axis
function tag(text, top, height, width, bg, color) {
  const el = document.createElement('div');
  el.className = 'tag';
  el.innerHTML = text;
  el.style.cssText = 'top:' + top + 'px;height:' + height + 'px;line-height:' + (height + 2) + 'px;width:' + width +
    'px;background:' + bg + ';color:' + color;
  document.getElementById('tags').appendChild(el);
}
const GRAY = '#7f7f7f', LIGHT = '#9e9e9e', VIOLET = '#673ab7';
tag('3.6647', 169, 34, 110, GRAY, '#fff');
tag('3.6578', 203, 35, 110, GRAY, '#fff');
tag('3.4006', 263, 34, 110, VIOLET, '#fff');
tag('3.2649', 297, 34, 110, GRAY, '#fff');
tag('3.0074', 393, 34, 110, LIGHT, '#131722');
tag('3.0060', 427, 34, 110, GRAY, '#fff');
tag('2.9575', 461, 34, 110, GRAY, '#fff');
tag('2.7452', 495, 34, 110, '#ff2a2a', '#fff');
tag('2.5365', 529, 34, 110, '#2962ff', '#fff');
tag('2.4759', 563, 34, 110, LIGHT, '#131722');
tag('2.3025', 597, 34, 110, '#9c27b0', '#fff');
tag('1.9003', 631, 34, 110, VIOLET, '#fff');
tag('1.6203', 688, 34, 110, VIOLET, '#fff');
tag('91.06 M', 834, 33, 118, TEAL, '#fff');
tag('0.2356', 920, 34, 110, '#f23645', '#fff');
tag('0.1869', 954, 34, 110, '#2962ff', '#fff');
tag('−0.0487', 1027, 34, 125, '#ff5252', '#fff');
tag('72.80', 1152, 34, 95, '#fdd835', '#131722');
tag('57.70', 1190, 34, 95, '#7e57c2', '#fff');
tag('<div style="height:31px;line-height:35px">3.1251</div><div style="height:31px;line-height:29px;color:#bfe6e2">09:30:21</div>', 331, 62, 132, TEAL, '#fff');
</script>
</body>
</html>
